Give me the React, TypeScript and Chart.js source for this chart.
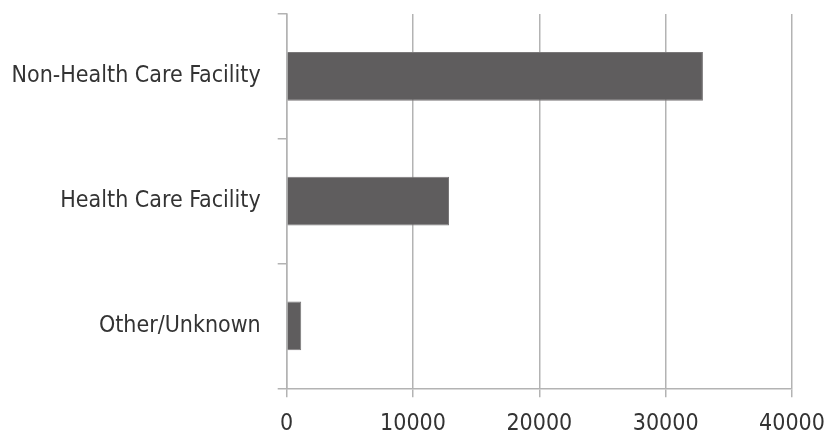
import React, { useEffect, useRef } from "react";
import { Chart, registerables } from "chart.js";

Chart.register(...registerables);

const categories = ["Non-Health Care Facility", "Health Care Facility", "Other/Unknown"];
const values = [32950, 12850, 1150];
const xTicks = [0, 10000, 20000, 30000, 40000];

const FONT = "'DejaVu Sans Condensed', 'DejaVu Sans', sans-serif";
const GRID = "#b3b3b3";

export default function App() {
  const ref = useRef<HTMLCanvasElement | null>(null);

  useEffect(() => {
    if (!ref.current) return;
    const chart = new Chart(ref.current, {
      type: "bar",
      data: {
        labels: categories,
        datasets: [
          {
            data: values,
            backgroundColor: "#5f5d5e",
            borderColor: "#7a7879",
            borderWidth: 1,
            categoryPercentage: 1,
            barPercentage: 0.39,
          },
        ],
      },
      options: {
        indexAxis: "y",
        animation: false,
        responsive: false,
        maintainAspectRatio: false,
        layout: { padding: { top: 14, right: 45, left: 0, bottom: 0 } },
        plugins: { legend: { display: false }, tooltip: { enabled: false } },
        scales: {
          x: {
            min: 0,
            max: 40000,
            afterBuildTicks: (axis: any) => {
              axis.ticks = xTicks.map((v) => ({ value: v }));
            },
            afterFit: (axis: any) => {
              axis.height = 46.7;
              axis.paddingLeft = 0;
              axis.paddingRight = 0;
            },
            border: { color: GRID, width: 1.5 },
            grid: {
              color: GRID,
              lineWidth: 1.5,
              drawTicks: true,
              tickLength: 9,
              tickColor: GRID,
            },
            ticks: {
              padding: 13,
              color: "#333333",
              font: { family: FONT, size: 23 },
              maxRotation: 0,
              callback: (v: any) => String(v),
            },
          },
          y: {
            afterFit: (axis: any) => {
              axis.width = 286.7;
              axis.paddingTop = 0;
              axis.paddingBottom = 0;
            },
            border: { color: GRID, width: 1.5 },
            grid: {
              drawOnChartArea: false,
              drawTicks: true,
              tickLength: 9,
              tickColor: GRID,
              lineWidth: 1.5,
              offset: true,
            },
            ticks: {
              padding: 17,
              color: "#333333",
              font: { family: FONT, size: 23 },
            },
          },
        },
      },
    });
    return () => chart.destroy();
  }, []);

  return (
    <div style={{ position: "absolute", left: 0, top: 0, width: 837, height: 435, background: "#fff" }}>
      <canvas ref={ref} width={837} height={435} style={{ width: 837, height: 435 }} />
    </div>
  );
}
